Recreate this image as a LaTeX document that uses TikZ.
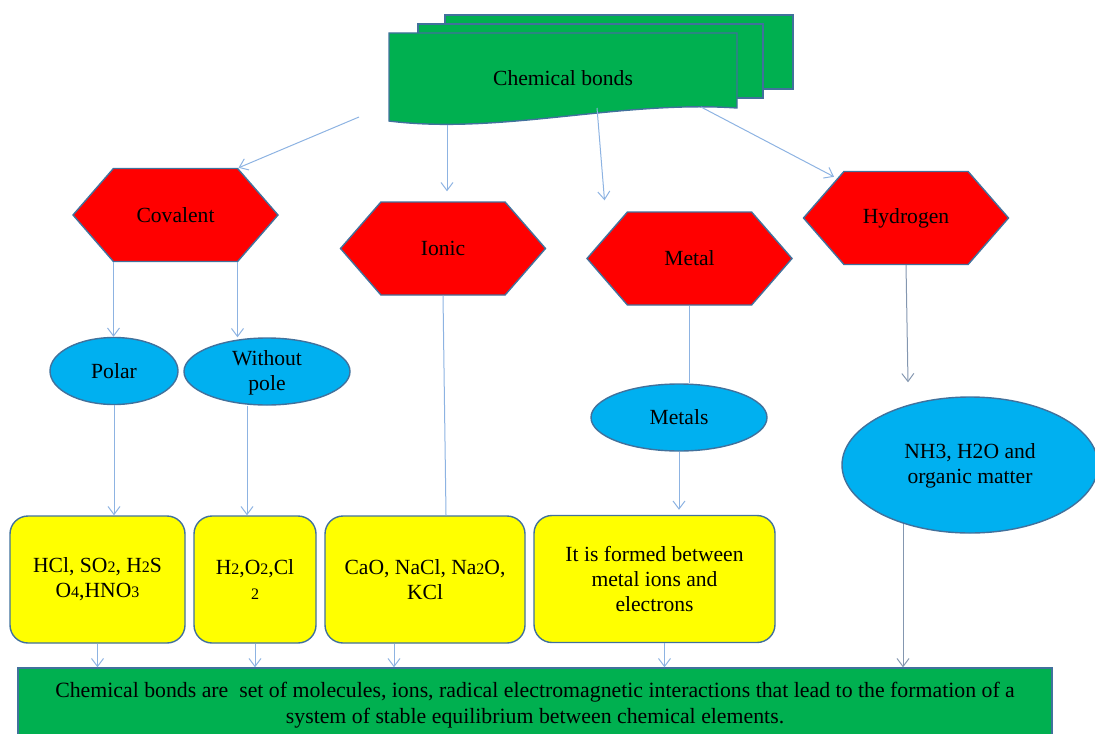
\documentclass[tikz,border=0pt]{standalone}
\usepackage{fontspec}
\setmainfont{Liberation Serif}
\usepackage{xcolor}
\usepackage{tikz}
\usetikzlibrary{arrows.meta, positioning, shapes.geometric, shapes.symbols, calc}

\definecolor{bondgreen}{HTML}{00B050}
\definecolor{hexred}{HTML}{FF0000}
\definecolor{ovalblue}{HTML}{00B0F0}
\definecolor{boxyellow}{HTML}{FFFF00}
\definecolor{edgeblue}{HTML}{41719C}
\definecolor{linkblue}{HTML}{8DB3E2}
\definecolor{linkgray}{HTML}{8497B0}

\tikzset{
  txt/.style={font=\fontsize{10.8}{12.5}\selectfont, align=center},
  hexbox/.style={txt, shape=signal, signal to=west and east, signal pointer angle=98,
    fill=hexred, draw=edgeblue, line width=0.7pt, minimum width=102.5pt, minimum height=46.5pt, inner sep=0pt},
  oval/.style={txt, ellipse, fill=ovalblue, draw=edgeblue, line width=0.7pt, inner sep=0pt},
  ybox/.style={txt, rectangle, rounded corners=9pt, fill=boxyellow, draw=edgeblue, line width=0.7pt,
    minimum height=63.5pt, inner sep=2pt},
  arr/.style={draw=linkblue, line width=0.5pt, -{Straight Barb[length=4pt,width=6pt]}},
  link/.style={draw=linkblue, line width=0.5pt},
  darr/.style={arr, draw=linkgray},
}
\newcommand{\chemsub}[1]{{\fontsize{8}{8}\selectfont #1}}

\begin{document}
\begin{tikzpicture}[x=0.5pt, y=-0.5pt]
  \useasboundingbox (0,0) rectangle (1095,733);

  % Title stack
  \filldraw[fill=bondgreen, draw=edgeblue, line width=0.7pt] (445,15) rectangle (793,89);
  \filldraw[fill=bondgreen, draw=edgeblue, line width=0.7pt] (418,24) rectangle (763,98);
  \filldraw[fill=bondgreen, draw=edgeblue, line width=0.7pt]
    (389,33) -- (737,33) -- (737,108) .. controls (620,100) and (500,135) .. (389,121) -- cycle;
  \node[txt] (bonds) at (563,78) {Chemical bonds};
  \coordinate (b1) at (359,117);
  \coordinate (b2) at (447,125);
  \coordinate (b3) at (597,108);
  \coordinate (b4) at (701,107);

  % Bond types
  \node[hexbox] (cov) at (175.5,215) {Covalent};
  \node[hexbox] (ion) at (443,248.5) {Ionic};
  \node[hexbox] (met) at (689.5,258.5) {Metal};
  \node[hexbox] (hyd) at (906,218) {Hydrogen};

  \draw[arr] (b1) -- ($(cov.north)+(63,0)$);
  \draw[arr] (b2) -- ($(ion.north)+(4,-10)$);
  \draw[arr] (b3) -- ($(met.north)+(-85,-11)$);
  \draw[arr] (b4) -- ($(hyd.north)+(-72,6)$);

  % Kinds
  \node[oval, minimum width=64pt, minimum height=33.5pt] (pol) at (114,371) {Polar};
  \node[oval, minimum width=83pt, minimum height=33.5pt, text depth=1.5pt] (wp) at (267,371.5) {Without\\pole};
  \node[oval, minimum width=88pt, minimum height=33.5pt] (mets) at (679,417.5) {Metals};
  \node[oval, minimum width=128pt, minimum height=68pt, text depth=2pt] (nh) at (970,465) {NH3, H2O and\\organic matter};

  \path ($(cov.south)+(-62,0)$) coordinate (c1) ($(cov.south)+(62,0)$) coordinate (c2);
  \draw[arr] (c1) -- (c1 |- pol.north);
  \draw[arr] (c2) -- (c2 |- wp.north);
  \draw[link] (met.south) -- (met.south |- mets.north);
  \draw[darr] (hyd.south) -- ($(nh.north)+(-62,-14)$);

  % Examples
  \node[ybox, minimum width=87.5pt] (y1) at (97.5,579.5)
    {HCl, SO\chemsub{2}, H\chemsub{2}S\\O\chemsub{4},HNO\chemsub{3}};
  \node[ybox, minimum width=61pt] (y2) at (255,579.5) {H\chemsub{2},O\chemsub{2},Cl\\\chemsub{2}};
  \node[ybox, minimum width=100pt] (y3) at (425,579.5) {CaO, NaCl, Na\chemsub{2}O,\\KCl};
  \node[ybox, minimum width=120.5pt] (y4) at (654.5,579) {It is formed between\\metal ions and\\electrons};

  \path ($(wp.south)+(-20,0)$) coordinate (w1);
  \draw[arr] (pol.south) -- (pol.south |- y1.north);
  \draw[arr] (w1) -- (w1 |- y2.north);
  \draw[link] (ion.south) -- ($(y3.north)+(21,0)$);
  \draw[arr] (mets.south) -- ($(mets.south |- y4.north)+(0,-5)$);

  % Summary
  \node[txt, fill=bondgreen, draw=edgeblue, line width=0.7pt, minimum width=517pt, minimum height=37.5pt,
    font=\fontsize{10.9}{13}\selectfont] (sum) at (535,705.5)
    {Chemical bonds are~ set of molecules, ions, radical electromagnetic interactions that lead to the formation of a\\
     system of stable equilibrium between chemical elements.};

  \foreach \b/\dx in {y1/0, y2/0, y3/-15.5, y4/5} {
    \path ([xshift=\dx pt]\b.south) coordinate (s);
    \draw[arr] (s) -- (s |- sum.north);
  }
  \path ($(nh.south)+(-67,-10)$) coordinate (n1);
  \draw[darr] (n1) -- (n1 |- sum.north);
\end{tikzpicture}
\end{document}
